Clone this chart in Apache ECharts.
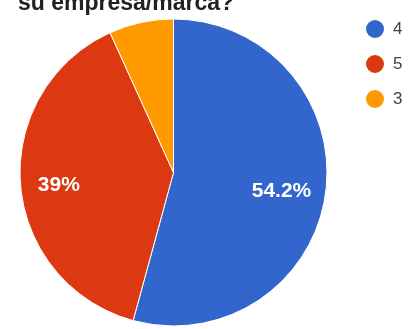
<!DOCTYPE html>
<html>
<head>
<meta charset="utf-8">
<script src="https://cdn.jsdelivr.net/npm/echarts@6/dist/echarts.min.js"></script>
<style>
  html, body { margin: 0; padding: 0; background: #fff; }
  #chart { width: 408px; height: 329px; }
</style>
</head>
<body>
<div id="chart"></div>
<script>
// Responses per rating
const categories = ['4', '5', '3'];
const counts = [32, 23, 4];
const colors = ['#3366CC', '#DC3912', '#FF9900'];
const titleText = 'su empresa/marca?';

const total = counts.reduce((a, b) => a + b, 0);
const pct = v => Math.round(v / total * 1000) / 10;
const data = categories.map((c, i) => ({ name: c, value: counts[i] }));

const center = [173.5, 172.5];
const radius = 153.5;

const chart = echarts.init(document.getElementById('chart'), null, { renderer: 'canvas' });
chart.setOption({
  animation: false,
  color: colors,
  title: {
    text: titleText,
    left: 13,
    top: -13,
    textStyle: { fontFamily: 'Arial', fontSize: 23, fontWeight: 'bold', color: '#212121' }
  },
  legend: {
    orient: 'vertical',
    left: 359,
    top: 13,
    icon: 'circle',
    itemWidth: 20,
    itemHeight: 20,
    itemGap: 13,
    data: categories,
    textStyle: { fontFamily: 'Arial', fontSize: 17, color: '#444', padding: [0, 0, 0, 3] }
  },
  series: [
    {
      type: 'pie',
      center: center,
      radius: [0, radius],
      startAngle: 90,
      clockwise: true,
      avoidLabelOverlap: false,
      silent: true,
      data: data,
      itemStyle: { borderColor: '#fff', borderWidth: 1 },
      label: { show: false },
      labelLine: { show: false }
    },
    {
      // label carrier: places percentage text at ~0.71 of the pie radius
      type: 'pie',
      center: center,
      radius: [0, radius * 1.42],
      startAngle: 90,
      clockwise: true,
      avoidLabelOverlap: false,
      silent: true,
      legendHoverLink: false,
      data: data,
      itemStyle: { color: 'rgba(0,0,0,0)', borderWidth: 0 },
      label: {
        show: true,
        position: 'inside',
        offset: [-3, 4],
        fontFamily: 'Arial',
        fontSize: 21,
        fontWeight: 'bold',
        color: '#fff',
        formatter: p => (pct(p.value) >= 10 ? pct(p.value) + '%' : '')
      },
      labelLine: { show: false }
    }
  ]
});
</script>
</body>
</html>
